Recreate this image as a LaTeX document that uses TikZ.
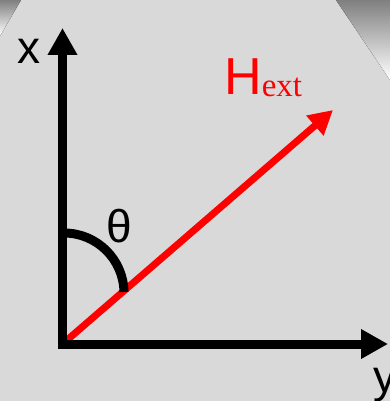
\documentclass[tikz,border=0pt]{standalone}
\usepackage{fontspec}
\setmainfont{Liberation Sans}
\newfontfamily\serifface{Liberation Serif}
\usetikzlibrary{arrows.meta}
\usetikzlibrary{positioning, calc}
\definecolor{paper}{RGB}{217,217,217}
\definecolor{shade}{RGB}{66,66,66}

\begin{document}
\begin{tikzpicture}[x=1pt,y=-1pt]
              \tikzstyle{axis} = [line width=9pt, draw=black, {Triangle[length=27pt,width=28pt]}-{Triangle[length=27pt,width=28pt]}]
              \tikzstyle{field} = [line width=7pt, draw=red, -{Triangle[length=24pt,width=25pt]}]
              \tikzstyle{label} = [inner sep=0pt, anchor=base west, font=\fontsize{46}{50}\selectfont]
              \useasboundingbox (0,0) rectangle (390,401);
              \fill[paper] (0,0) rectangle (390,401);
              \fill[shade] (0,0) -- (21,0) -- (0,36) -- cycle;
              \fill[shade] (336,0) -- (390,0) -- (390,80) -- cycle;
              \coordinate (o) at (62.5,344);
              \coordinate (xtip) at (62.5,28);
              \coordinate (ytip) at (388,344);
              \coordinate (htip) at (333,110);
              \coordinate (a) at (64,233);
              \draw[field] (o) -- (htip);
              \draw[axis] (xtip) -- (o) -- (ytip);
              \draw[line width=9pt] (a) arc[start angle=270, end angle=359, radius=60];
              \node (x) [label] at (17,64) {x};
              \node (y) [label] at (373,392) {y};
              \node (t) [label] at (106,242) {θ};
              \node (h) [label, text=red, font=\fontsize{52}{56}\selectfont] at (224,95) {H\raisebox{-2pt}{\serifface\fontsize{33}{36}\selectfont ext}};
            \end{tikzpicture}
\end{document}
